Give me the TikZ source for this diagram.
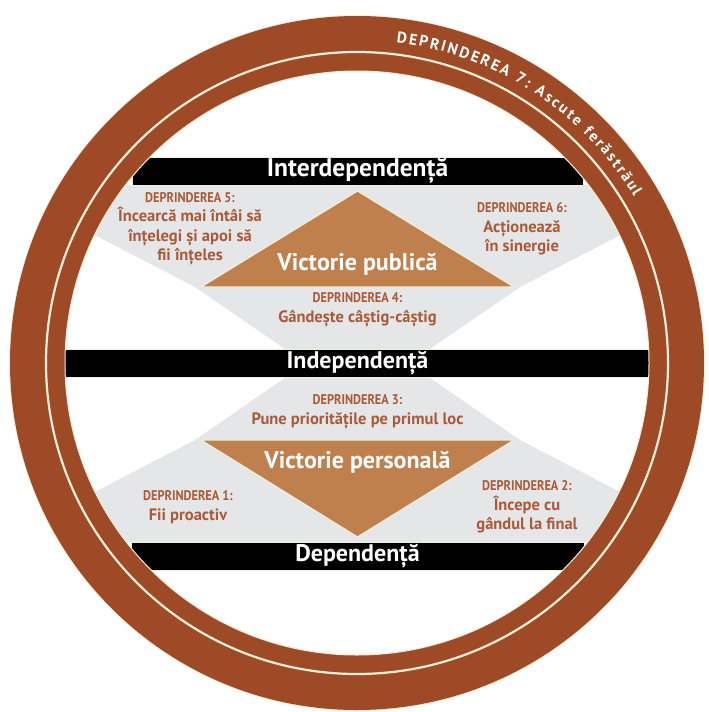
\documentclass[tikz,border=0pt]{standalone}
\usepackage{fontspec}
\setmainfont{PT Sans}
\newfontfamily\hdfont[FakeStretch=0.88]{PT Sans}
\usetikzlibrary{decorations.text}
\definecolor{ringbrown}{RGB}{158,74,38}
\definecolor{tanfill}{RGB}{192,128,78}
\definecolor{panelgray}{RGB}{229,230,232}
\definecolor{txtbrown}{RGB}{170,90,55}
\definecolor{cream}{RGB}{240,240,218}
\tikzset{
  bar/.style={fill=black, draw=cream, line width=0.6pt, text=white, inner sep=0pt,
    font=\fontsize{24}{24}\selectfont\bfseries, minimum height=28pt},
  habit/.style={text=txtbrown, align=center, inner sep=0pt,
    font=\fontsize{16.5}{19.5}\selectfont\bfseries},
  victory/.style={text=white, inner sep=0pt, font=\fontsize{24}{24}\selectfont\bfseries},
  tri/.style={fill=tanfill, draw=cream, line width=1.2pt, line join=miter},
  panel/.style={fill=panelgray}
}
\newcommand{\hd}[1]{{\hdfont\bfseries\fontsize{14}{19.5}\selectfont #1}}
\begin{document}
\begin{tikzpicture}[x=1pt,y=-1pt]
\useasboundingbox (0,0) rectangle (709,712);
\fill[white] (0,0) rectangle (709,712);
\coordinate (c) at (357,363);
% grey panels
\fill[panel] (60,185) -- (655,185) -- (655,217) -- (520,287) -- (430,349) -- (285,349) -- (195,287) -- (60,217) -- cycle;
\fill[panel] (60,542) -- (655,542) -- (655,510) -- (520,440) -- (430,378) -- (285,378) -- (195,440) -- (60,510) -- cycle;
% triangles
\filldraw[tri] (201,287) -- (357.5,191) -- (514,287) -- cycle;
\filldraw[tri] (201,440) -- (357.5,537) -- (514,440) -- cycle;
% bars
\node[bar, minimum width=451pt, font=\fontsize{25.5}{25.5}\selectfont\bfseries] (interdep) at (357.5,171) {Interdependență};
\node[bar, minimum width=600pt] (indep) at (357.5,363.5) {Independență};
\node[bar, minimum width=453pt] (dep) at (357.5,556) {Dependență};
% victories
\node[victory] (publica) at (357.5,264) {Victorie publică};
\node[victory] (personala) at (357.5,462) {Victorie personală};
% habits
\node[habit] (d5) at (190,229) {\hd{DEPRINDEREA 5:}\\Încearcă mai întâi să\\înțelegi și apoi să\\fii înțeles};
\node[habit] (d6) at (522,229) {\hd{DEPRINDEREA 6:}\\Acționează\\în sinergie};
\node[habit] (d4) at (357.5,310) {\hd{DEPRINDEREA 4:}\\Gândește câștig-câștig};
\node[habit] (d3) at (357.5,412) {\hd{DEPRINDEREA 3:}\\Pune prioritățile pe primul loc};
\node[habit] (d1) at (188,507) {\hd{DEPRINDEREA 1:}\\Fii proactiv};
\node[habit] (d2) at (527,507) {\hd{DEPRINDEREA 2:}\\Începe cu\\gândul la final};
% ring
\draw[cream, line width=2pt] (c) circle[radius=347pt];
\fill[ringbrown, even odd rule] (c) circle[radius=347pt] (c) circle[radius=292pt];
\draw[cream, line width=1pt] (c) circle[radius=292pt];
\draw[cream, line width=2.2pt] (c) circle[radius=311pt];
\path[decorate, decoration={text along path, text align=fit to path,
  text={|\fontsize{15.5}{15.5}\selectfont\bfseries\color{white}|DEPRINDEREA 7: Ascute ferăstrăul}}]
  (c) ++(83:323pt) arc[start angle=83, end angle=31, radius=323pt];
\end{tikzpicture}
\end{document}
